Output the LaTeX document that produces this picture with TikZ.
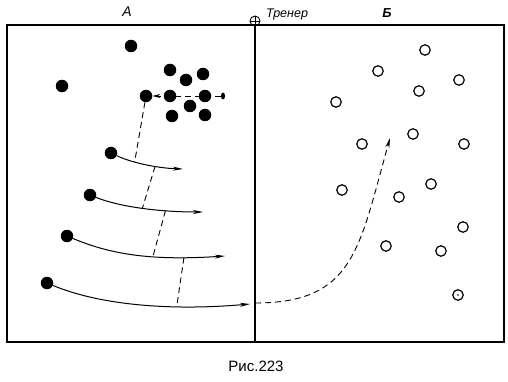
\documentclass[tikz,border=0pt]{standalone}
\usepackage{fontspec}
\setmainfont{Liberation Sans}
\usetikzlibrary{arrows.meta,shapes.geometric}
\begin{document}
\begin{tikzpicture}[x=1pt,y=-1pt,
  player/.style={circle,fill=black,inner sep=0pt,minimum size=12.5pt},
  opponent/.style={circle,draw=black,line width=1.2pt,inner sep=0pt,minimum size=10.5pt},
  run/.style={line width=1pt,-{Stealth[length=10pt,width=4pt,inset=3pt]}},
  pass/.style={line width=0.9pt,dash pattern=on 6pt off 4pt},
  frame/.style={line width=1.3pt},
  lbl/.style={inner sep=0pt}]
\useasboundingbox (0,0) rectangle (508,382);
% frame
\draw[frame] (7,25) rectangle (504,342);
\node[circle,draw,line width=0.9pt,minimum size=10pt,inner sep=0pt] (coach) at (255,21) {};
\draw[line width=0.8pt] (coach.north) -- (coach.south) (coach.west) -- (coach.east);
\coordinate (mb) at (255,342);
\draw[frame] (coach.south) -- (mb);
% labels
\node[lbl,font=\itshape\fontsize{14}{16}\selectfont] (la) at (127,12) {А};
\node[lbl,font=\itshape\fontsize{12.5}{14}\selectfont] (lt) at (287,14) {Тренер};
\node[lbl,font=\itshape\bfseries\fontsize{13}{15}\selectfont] (lb) at (387,13) {Б};
\node[lbl,font=\fontsize{15}{17}\selectfont] (cap) at (256,366) {Рис.223};
% black players
\node[player] (b1) at (131,46) {};
\node[player] (b2) at (62,86) {};
\node[player] (c1) at (170,70) {};
\node[player] (c2) at (186,80) {};
\node[player] (c3) at (203,74) {};
\node[player] (k) at (146,96) {};
\node[player] (c4) at (190,106) {};
\node[player] (c5) at (172,116) {};
\node[player] (c6) at (205,115) {};
\node[fill=black,ellipse,inner sep=0pt,minimum width=4pt,minimum height=7pt] (tail) at (223,96) {};
\draw[pass,-{Stealth[length=8pt,width=4pt]}] (tail) -- (k);
\node[player] (c7) at (170,96) {};
\node[player] (c8) at (205,96) {};
% runners
\node[player] (r1) at (111,153) {};
\node[player] (r2) at (90,195) {};
\node[player] (r3) at (67,236) {};
\node[player] (r4) at (47,283) {};
\coordinate (e1) at (183,169);
\coordinate (e2) at (203,212);
\coordinate (e3) at (225,256);
\coordinate (e4) at (250,304);
\draw[run] (r1) .. controls (130,162) and (155,168) .. (e1)
  coordinate[pos=0.35] (p1a) coordinate[pos=0.65] (p1b);
\draw[run] (r2) .. controls (120,207) and (160,212) .. (e2)
  coordinate[pos=0.5] (p2a) coordinate[pos=0.7] (p2b);
\draw[run] (r3) .. controls (110,254) and (150,261) .. (e3)
  coordinate[pos=0.62] (p3a) coordinate[pos=0.8] (p3b);
\draw[run] (r4) .. controls (100,305) and (170,311) .. (e4)
  coordinate[pos=0.68] (p4a);
% passes
\draw[pass] (k) -- (p1a);
\draw[pass] (p1b) -- (p2a);
\draw[pass] (p2b) -- (p3a);
\draw[pass] (p3b) -- (p4a);
\coordinate (s5) at (255,303);
\coordinate (t5) at (390,138);
\draw[pass,-{Stealth[length=10pt,width=4pt,inset=3pt]}] (s5) .. controls (354,303) and (359,249) .. (t5);
% opponents
\foreach \n/\x/\y in {o1/425/50,o2/378/71,o3/459/80,o4/419/91,o5/336/102,o6/413/134,o7/362/144,o8/464/144,o9/431/184,o10/342/190,o11/399/197,o12/463/227,o13/386/246,o14/441/251,o15/458/295}
  \node[opponent] (\n) at (\x,\y) {};
\fill (o15) circle (0.8pt);
\end{tikzpicture}
\end{document}
